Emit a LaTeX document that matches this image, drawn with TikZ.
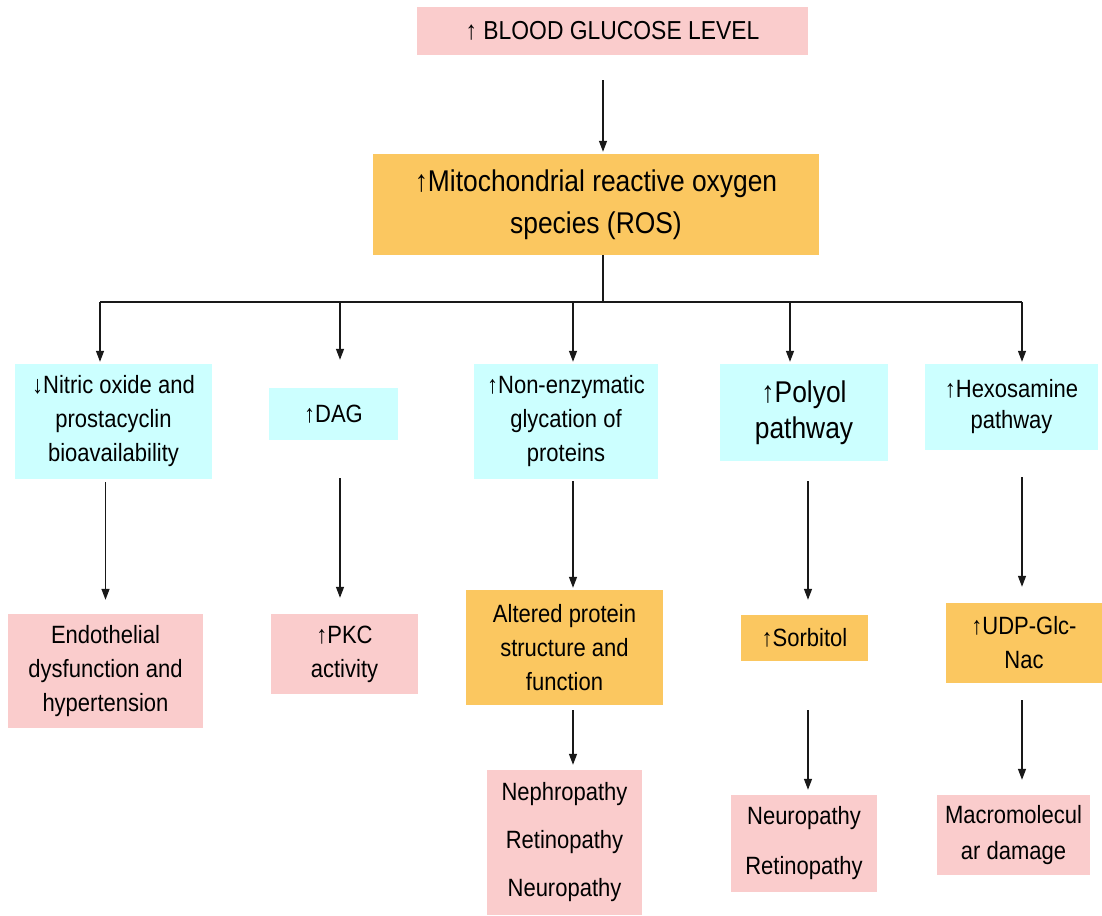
\documentclass[tikz,border=0pt]{standalone}
\usepackage{fontspec}
\setmainfont{Liberation Sans}[FakeStretch=0.88]
\usetikzlibrary{arrows.meta}
\definecolor{pinkbox}{RGB}{250,204,204}
\definecolor{cyanbox}{RGB}{204,255,255}
\definecolor{orangebox}{RGB}{251,199,96}
\begin{document}
\begin{tikzpicture}[x=1pt,y=-1pt,
  box/.style={draw=none, inner sep=0pt, align=center, font=\fontsize{25}{34}\selectfont},
  pinkb/.style={box, fill=pinkbox},
  cyanb/.style={box, fill=cyanbox},
  orangeb/.style={box, fill=orangebox},
  conn/.style={line width=1.3pt, draw=black!90},
  arr/.style={conn, -{Triangle[width=8pt,length=11pt]}}]
\useasboundingbox (0,0) rectangle (1102,915);

% column coordinates
\coordinate (trunk) at (603,0);
\coordinate (split) at (603,302);
\coordinate (c1) at (100,302);
\coordinate (c2) at (340,302);
\coordinate (c3) at (573,302);
\coordinate (c4) at (790,302);
\coordinate (c4b) at (808,0);
\coordinate (c5) at (1022,302);

% nodes
\node[pinkb, minimum width=391pt, minimum height=48pt, font=\fontsize{26}{30}\selectfont] (glucose) at (612.5,31) {↑ BLOOD GLUCOSE LEVEL};
\node[orangeb, minimum width=446pt, minimum height=101pt, font=\fontsize{30}{42}\selectfont] (ros) at (596,204.5) {↑Mitochondrial reactive oxygen\\species (ROS)};

\node[cyanb, minimum width=197pt, minimum height=115pt] (nitric) at (113.5,421.5) {↓Nitric oxide and\\prostacyclin\\bioavailability};
\node[cyanb, minimum width=129pt, minimum height=52pt] (dag) at (333.5,414) {↑DAG};
\node[cyanb, minimum width=184pt, minimum height=115pt] (glyc) at (566,421.5) {↑Non-enzymatic\\glycation of\\proteins};
\node[cyanb, minimum width=168pt, minimum height=97pt, font=\fontsize{30}{36}\selectfont] (polyol) at (804,412.5) {↑Polyol\\pathway};
\node[cyanb, minimum width=173pt, minimum height=86pt, font=\fontsize{25}{31}\selectfont] (hexo) at (1011.5,407) {↑Hexosamine\\pathway};

\node[pinkb, minimum width=195pt, minimum height=114pt] (endo) at (105.5,671) {Endothelial\\dysfunction and\\hypertension};
\node[pinkb, minimum width=147pt, minimum height=80pt] (pkc) at (344.5,654) {↑PKC\\activity};
\node[orangeb, minimum width=197pt, minimum height=115pt] (altered) at (564.5,647.5) {Altered protein\\structure and\\function};
\node[orangeb, minimum width=127pt, minimum height=46pt] (sorb) at (804.5,638) {↑Sorbitol};
\node[orangeb, minimum width=156pt, minimum height=80pt] (udp) at (1024,643) {↑UDP-Glc-\\Nac};

\node[pinkb, minimum width=155pt, minimum height=145pt, font=\fontsize{25}{48}\selectfont] (neph) at (564.5,842.5) {Nephropathy\\Retinopathy\\Neuropathy};
\node[pinkb, minimum width=146pt, minimum height=97pt, font=\fontsize{25}{50}\selectfont] (neur) at (804,843.5) {Neuropathy\\Retinopathy};
\node[pinkb, minimum width=153pt, minimum height=80pt, font=\fontsize{25}{36}\selectfont] (macro) at (1013.5,835) {Macromolecul\\ar damage};

% connectors
\draw[arr, shorten <=25pt, shorten >=2pt] (glucose.south -| trunk) -- (ros.north -| trunk);
\draw[conn] (ros.south -| trunk) -- (split);
\draw[conn] (c1) -- (c5);
\draw[arr, shorten >=2pt] (c1) -- (nitric.north -| c1);
\draw[arr, shorten >=28pt] (c2) -- (dag.north -| c2);
\draw[arr, shorten >=2pt] (c3) -- (glyc.north -| c3);
\draw[arr, shorten >=2pt] (c4) -- (polyol.north -| c4);
\draw[arr, shorten >=2pt] (c5) -- (hexo.north -| c5);

\draw[arr, shorten <=3pt, shorten >=14pt] (nitric.south -| endo.north) -- (endo.north);
\draw[arr, shorten <=38pt, shorten >=16pt] (dag.south -| c2) -- (pkc.north -| c2);
\draw[arr, shorten <=2pt, shorten >=2pt] (glyc.south -| c3) -- (altered.north -| c3);
\draw[arr, shorten <=20pt, shorten >=15pt] (polyol.south -| c4b) -- (sorb.north -| c4b);
\draw[arr, shorten <=27pt, shorten >=16pt] (hexo.south -| c5) -- (udp.north -| c5);

\draw[arr, shorten <=5pt, shorten >=5pt] (altered.south -| c3) -- (neph.north -| c3);
\draw[arr, shorten <=49pt, shorten >=5pt] (sorb.south -| c4b) -- (neur.north -| c4b);
\draw[arr, shorten <=17pt, shorten >=15pt] (udp.south -| c5) -- (macro.north -| c5);
\end{tikzpicture}
\end{document}
